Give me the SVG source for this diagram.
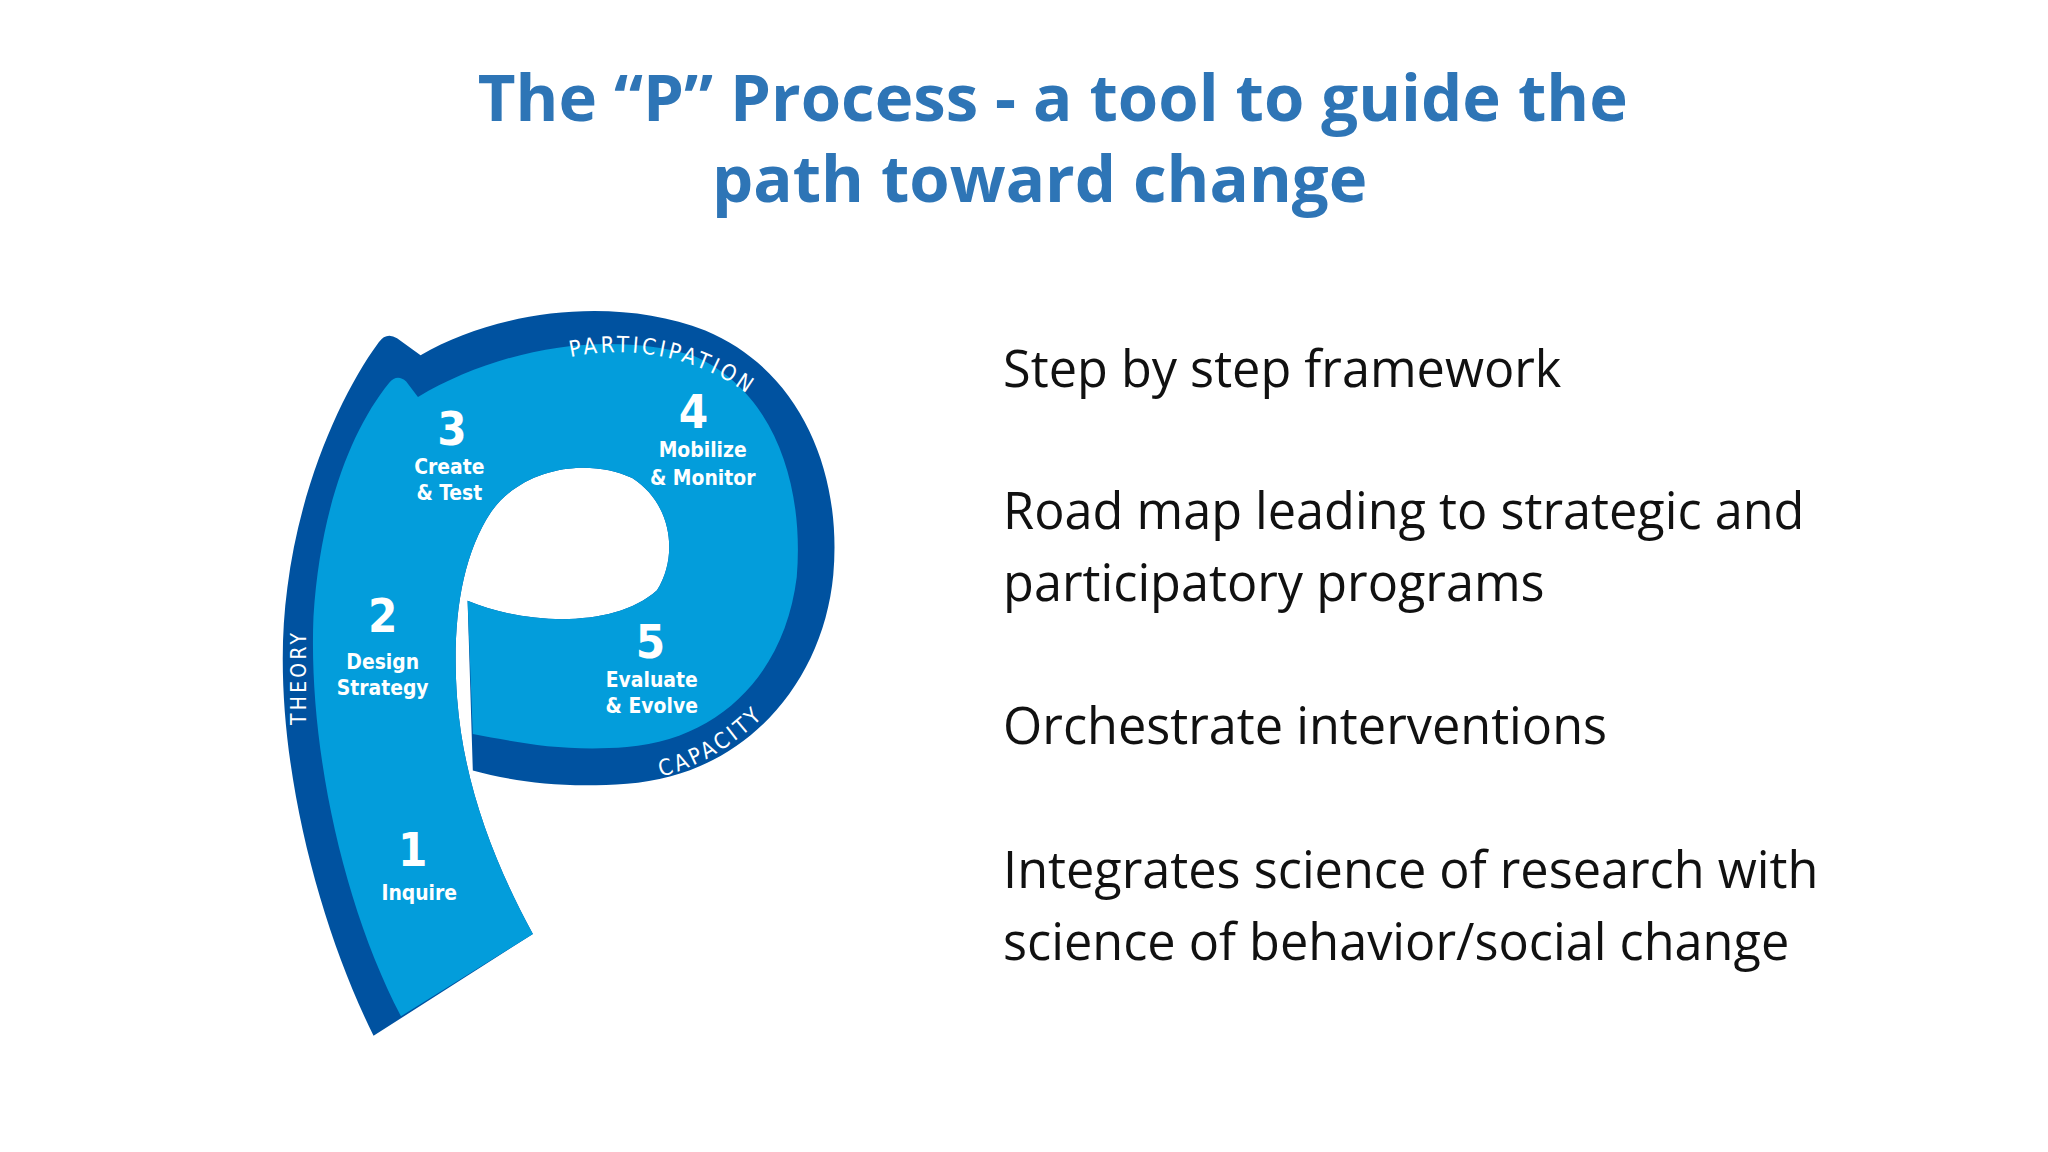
<svg xmlns="http://www.w3.org/2000/svg" width="2048" height="1152" viewBox="0 0 2048 1152">
<style>
.t{font-family:"Open Sans","Liberation Sans",sans-serif;font-weight:bold;fill:#2e75b6;font-size:50px;text-anchor:middle}
.b{font-family:"Open Sans","Liberation Sans",sans-serif;fill:#111;font-size:38.6px}
.n{font-family:"DejaVu Sans Condensed","DejaVu Sans",sans-serif;font-weight:bold;fill:#fff;font-size:36px;text-anchor:middle}
.l{font-family:"DejaVu Sans Condensed","DejaVu Sans",sans-serif;font-weight:bold;fill:#fff;font-size:16px;text-anchor:middle}
.a{font-family:"DejaVu Sans Condensed","DejaVu Sans",sans-serif;fill:#fff;font-size:17px;letter-spacing:2.5px}
</style>
<defs>
<path id="pTop" d="M300,440 A173,176 0 0 1 640,400"/>
<path id="pBot" d="M400,588 A168,168 0 0 0 624,480"/>
</defs>
<rect width="2048" height="1152" fill="#fff"/>
<g transform="scale(1.30612)">
<g id="title">
<text class="t" x="806" y="93">The “P” Process - a tool to guide the</text>
<text class="t" x="796" y="155">path toward change</text>
</g>
<g id="shape">
<path fill="#0052a0" d="M286,793 C240,700 205,560 220,450 C230,370 262,300 290,262 Q296,254 304,259 L322,272 C380,238 470,226 540,253 C612,283 645,360 638,440 C630,525 568,594 480,600 C430,604 392,598 362,590 L358,460 C400,478 470,482 503,452 C520,425 514,385 484,366 C450,350 400,358 376,392 C352,428 346,480 350,535 C355,600 378,660 408,715 Z"/>
<path fill="#039ddb" d="M307,778 C262,692 236,570 240,472 C245,392 268,330 298,293 Q304,286 311,292 L320,304 C380,268 462,252 530,272 C592,298 616,370 610,442 C601,515 552,566 480,572 C430,576 395,568 362,562 L358,460 C400,478 470,482 503,452 C520,425 514,385 484,366 C450,350 400,358 376,392 C352,428 346,480 350,535 C355,600 378,660 408,715 Z"/>
</g>
<g id="labels">
<text class="a"><textPath href="#pTop" startOffset="232">PARTICIPATION</textPath></text>
<text class="a"><textPath href="#pBot" startOffset="108">CAPACITY</textPath></text>
<text class="a" transform="translate(234,555) rotate(-90)" style="font-size:16px">THEORY</text>
</g>
<g id="step1"><text class="n" x="316" y="663">1</text><text class="l" x="321" y="689">Inquire</text></g>
<g id="step2"><text class="n" x="293" y="484">2</text><text class="l" x="293" y="512">Design</text><text class="l" x="293" y="532">Strategy</text></g>
<g id="step3"><text class="n" x="346" y="341">3</text><text class="l" x="344" y="363">Create</text><text class="l" x="344" y="383">&amp; Test</text></g>
<g id="step4"><text class="n" x="531" y="328">4</text><text class="l" x="538" y="350">Mobilize</text><text class="l" x="538" y="371">&amp; Monitor</text></g>
<g id="step5"><text class="n" x="498" y="504">5</text><text class="l" x="499" y="526">Evaluate</text><text class="l" x="499" y="546">&amp; Evolve</text></g>
<g id="bullets">
<text class="b" x="768" y="296">Step by step framework</text>
<text class="b" x="768" y="405">Road map leading to strategic and</text>
<text class="b" x="768" y="460">participatory programs</text>
<text class="b" x="768" y="570">Orchestrate interventions</text>
<text class="b" x="768" y="680">Integrates science of research with</text>
<text class="b" x="768" y="735">science of behavior/social change</text>
</g>
</g>
</svg>
